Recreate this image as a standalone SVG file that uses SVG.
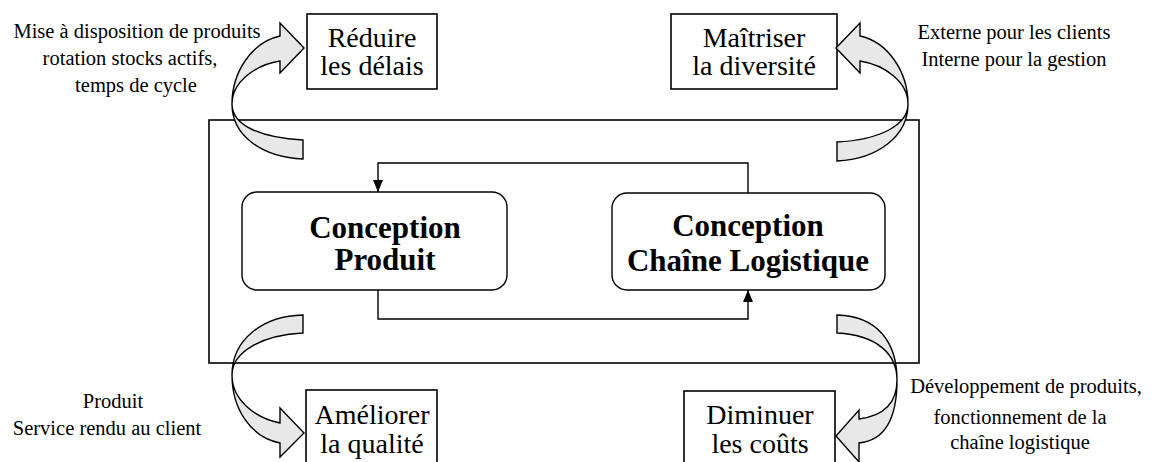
<svg xmlns="http://www.w3.org/2000/svg" width="1154" height="462" viewBox="0 0 1154 462">
<defs>
<style>
.box{fill:#fff;stroke:#000;stroke-width:1.6}
.rbox{fill:#fff;stroke:#000;stroke-width:1.4}
.carrow{fill:#e8e8e8;stroke:#000;stroke-width:1.4;stroke-linejoin:miter}
.conn{fill:none;stroke:#000;stroke-width:1.4}
.t{font-family:"Liberation Serif","Times New Roman",serif;fill:#000;text-anchor:middle}
.ann{font-size:20.5px}
.goal{font-size:28px}
.bold{font-size:31px;font-weight:bold}
</style>
<marker id="ah" viewBox="0 0 12 10" refX="12" refY="5" markerWidth="12" markerHeight="10" markerUnits="userSpaceOnUse" orient="auto">
<path d="M0,0 L12,5 L0,10 Z" fill="#000"/>
</marker>
</defs>
<rect width="1154" height="462" fill="#fff"/>
<g id="frame"><rect class="box" x="209" y="120" width="710" height="243"/></g>
<g id="conception-produit">
<rect class="rbox" x="242" y="192" width="265" height="98" rx="15"/>
<text class="t bold" x="385" y="238">Conception</text>
<text class="t bold" x="385" y="270">Produit</text>
</g>
<g id="conception-chaine">
<rect class="rbox" x="612" y="193" width="273" height="97" rx="15"/>
<text class="t bold" x="748" y="236">Conception</text>
<text class="t bold" x="748" y="271">Chaîne Logistique</text>
</g>
<g id="reduire">
<rect class="box" x="307" y="14" width="130" height="75"/>
<text class="t goal" x="372" y="47">Réduire</text>
<text class="t goal" x="372" y="75">les délais</text>
</g>
<g id="maitriser">
<rect class="box" x="671" y="14" width="166" height="75"/>
<text class="t goal" x="754" y="47">Maîtriser</text>
<text class="t goal" x="754" y="75">la diversité</text>
</g>
<g id="ameliorer">
<rect class="box" x="306" y="390" width="131" height="80"/>
<text class="t goal" x="372" y="424">Améliorer</text>
<text class="t goal" x="372" y="453">la qualité</text>
</g>
<g id="diminuer">
<rect class="box" x="684" y="391" width="151" height="80"/>
<text class="t goal" x="760" y="424">Diminuer</text>
<text class="t goal" x="760" y="453">les coûts</text>
</g>
<g id="connectors">
<path class="conn" d="M748,193 V163 H378 V192" marker-end="url(#ah)"/>
<path class="conn" d="M378,290 V319 H748 V290" marker-end="url(#ah)"/>
</g>
<g id="curved-arrows">
<path class="carrow" d="M303,140 C262,138 232,126 232,104 C232,82 255,65 280,61 L280,73 L304,48 L280,23 L280,36 C252,42 232,72 232,104 C232,136 262,157 303,159 Z"/>
<path class="carrow" d="M837,142 C878,140 908,126 908,104 C908,82 885,65 860,61 L860,73 L836,48 L860,23 L860,36 C888,42 908,72 908,104 C908,136 878,159 837,161 Z"/>
<path class="carrow" d="M303,333 C262,335 232,352 232,375 C232,400 255,418 280,423 L280,408 L304,433 L280,457 L280,443 C250,437 232,408 232,375 C232,340 262,316 303,315 Z"/>
<path class="carrow" d="M837,333 C878,335 897,355 897,380 C897,404 882,416 859,419 L859,410 L836,436 L859,462 L859,443 C889,440 897,412 897,380 C897,343 878,316 837,315 Z"/>
</g>
<g id="annotations">
<text class="t ann" x="137" y="38">Mise à disposition de produits</text>
<text class="t ann" x="130" y="65">rotation stocks actifs,</text>
<text class="t ann" x="136" y="92">temps de cycle</text>
<text class="t ann" x="1014" y="39">Externe pour les clients</text>
<text class="t ann" x="1014" y="66">Interne pour la gestion</text>
<text class="t ann" x="113" y="408">Produit</text>
<text class="t ann" x="107" y="435">Service rendu au client</text>
<text class="t ann" x="1026" y="393">Développement de produits,</text>
<text class="t ann" x="1020" y="424">fonctionnement de la</text>
<text class="t ann" x="1020" y="449">chaîne logistique</text>
</g>
</svg>
